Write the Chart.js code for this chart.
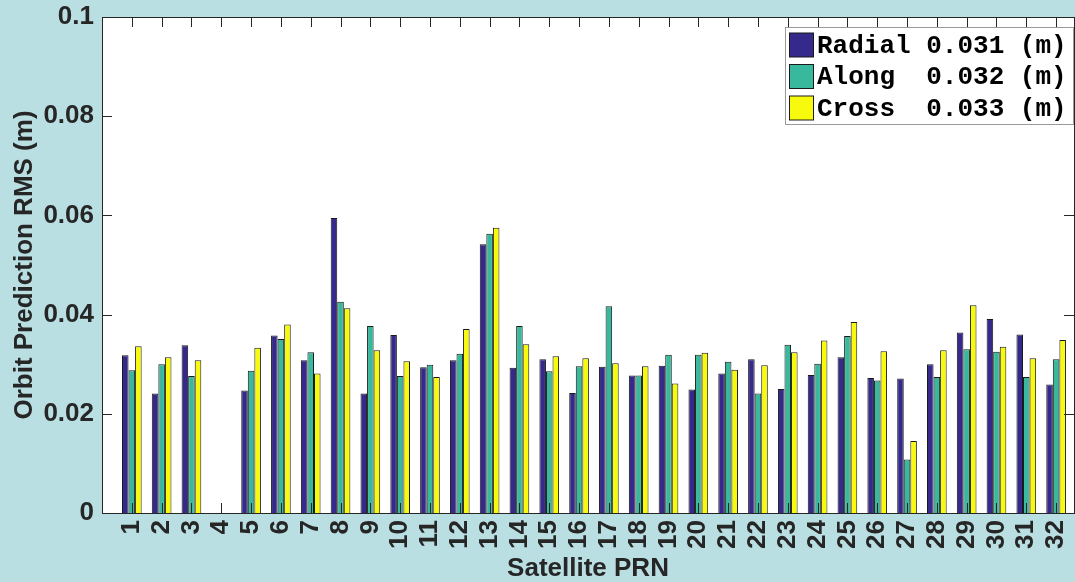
<!DOCTYPE html>
<html>
<head>
<meta charset="utf-8">
<title>Orbit Prediction RMS</title>
<script src="https://cdn.jsdelivr.net/npm/chart.js@4.4.1/dist/chart.umd.min.js"></script>
<style>
  html, body { margin: 0; padding: 0; background: #badfe3; overflow: hidden; }
</style>
</head>
<body>
<canvas id="rms" width="1075" height="582"></canvas>
<script>
(function () {
  'use strict';

  // --- Datos ---
  const prn = [1, 2, 3, 4, 5, 6, 7, 8, 9, 10, 11, 12, 13, 14, 15, 16,
               17, 18, 19, 20, 21, 22, 23, 24, 25, 26, 27, 28, 29, 30, 31, 32];
  const radial = [0.0318, 0.0241, 0.0338, null, 0.0247, 0.0358, 0.0308, 0.0595,
                  0.0241, 0.0359, 0.0294, 0.0308, 0.0542, 0.0293, 0.0310, 0.0242,
                  0.0295, 0.0277, 0.0297, 0.0249, 0.0281, 0.0310, 0.0250, 0.0278,
                  0.0314, 0.0272, 0.0271, 0.0300, 0.0364, 0.0391, 0.0360, 0.0259];
  const along = [0.0288, 0.0300, 0.0276, null, 0.0287, 0.0351, 0.0324, 0.0426,
                 0.0377, 0.0276, 0.0299, 0.0321, 0.0563, 0.0377, 0.0286, 0.0296,
                 0.0417, 0.0277, 0.0319, 0.0319, 0.0305, 0.0241, 0.0339, 0.0301,
                 0.0357, 0.0267, 0.0108, 0.0274, 0.0330, 0.0325, 0.0274, 0.0310];
  const cross = [0.0336, 0.0314, 0.0308, null, 0.0333, 0.0380, 0.0281, 0.0413,
                 0.0328, 0.0306, 0.0274, 0.0371, 0.0575, 0.0340, 0.0316, 0.0312,
                 0.0302, 0.0296, 0.0261, 0.0323, 0.0289, 0.0298, 0.0324, 0.0348,
                 0.0385, 0.0326, 0.0145, 0.0328, 0.0419, 0.0335, 0.0312, 0.0349];
  const seriesNames = ['Radial', 'Along', 'Cross'];
  const seriesMeans = [0.031, 0.032, 0.033];
  const yTickValues = [0, 0.02, 0.04, 0.06, 0.08, 0.1];
  const yTickLabels = ['0', '0.02', '0.04', '0.06', '0.08', '0.1'];

  const colors = ['#35298b', '#38b99d', '#f8fa0e'];
  const axisColor = '#262626';
  const sans = '"Liberation Sans", Arial, sans-serif';
  const mono = '"Liberation Mono", "Courier New", monospace';

  function toPoints(values) {
    return values.map(function (v, i) { return { x: prn[i], y: v }; });
  }

  const datasets = [radial, along, cross].map(function (values, i) {
    return {
      label: seriesNames[i].padEnd(7, ' ') + seriesMeans[i].toFixed(3) + ' (m)',
      data: toPoints(values),
      backgroundColor: colors[i],
      borderColor: '#1a1a1a',
      borderWidth: 1,
      borderSkipped: 'bottom',
      categoryPercentage: 0.66,
      barPercentage: 1.0
    };
  });

  function noPadding(scale) {
    scale.paddingTop = 0;
    scale.paddingBottom = 0;
    scale.paddingLeft = 0;
    scale.paddingRight = 0;
  }

  // --- Fondo, caja de ejes, marcas interiores y leyenda ---
  const matlabFrame = {
    id: 'matlabFrame',
    beforeDraw: function (chart) {
      const ctx = chart.ctx;
      const a = chart.chartArea;
      ctx.save();
      ctx.fillStyle = '#badfe3';
      ctx.fillRect(0, 0, chart.width, chart.height);
      ctx.fillStyle = '#ffffff';
      ctx.fillRect(a.left, a.top, a.right - a.left, a.bottom - a.top);
      ctx.restore();
    },
    afterDatasetsDraw: function (chart) {
      const ctx = chart.ctx;
      const a = chart.chartArea;
      const xs = chart.scales.x;
      const ys = chart.scales.y;
      const tick = 10;
      ctx.save();
      ctx.strokeStyle = axisColor;
      ctx.lineWidth = 1;
      ctx.beginPath();
      prn.forEach(function (v) {
        const px = Math.round(xs.getPixelForValue(v)) + 0.5;
        ctx.moveTo(px, a.bottom);
        ctx.lineTo(px, a.bottom - tick);
        ctx.moveTo(px, a.top);
        ctx.lineTo(px, a.top + tick);
      });
      yTickValues.forEach(function (v) {
        const py = Math.round(ys.getPixelForValue(v)) + 0.5;
        ctx.moveTo(a.left, py);
        ctx.lineTo(a.left + tick, py);
        ctx.moveTo(a.right, py);
        ctx.lineTo(a.right - tick, py);
      });
      ctx.stroke();
      ctx.strokeRect(Math.round(a.left) + 0.5, Math.round(a.top) + 0.5,
        Math.round(a.right - a.left), Math.round(a.bottom - a.top));

      // leyenda
      const lx = 785.5, ly = 27.5, lw = 288, lh = 97;
      ctx.fillStyle = '#ffffff';
      ctx.fillRect(lx, ly, lw, lh);
      ctx.strokeStyle = '#9a9a9a';
      ctx.strokeRect(lx, ly, lw, lh);
      ctx.font = 'bold 26px ' + mono;
      ctx.textBaseline = 'middle';
      ctx.textAlign = 'left';
      chart.data.datasets.forEach(function (ds, i) {
        const cy = 45 + i * 31.5;
        ctx.fillStyle = ds.backgroundColor;
        ctx.fillRect(789.5, cy - 12, 24, 24);
        ctx.strokeStyle = '#1a1a1a';
        ctx.strokeRect(789.5, cy - 12, 24, 24);
        ctx.fillStyle = '#000000';
        ctx.fillText(ds.label, 817, cy + 1);
      });
      ctx.restore();
    }
  };

  new Chart(document.getElementById('rms'), {
    type: 'bar',
    data: { datasets: datasets },
    options: {
      responsive: false,
      animation: false,
      layout: { padding: { top: 17, right: 1, left: 0, bottom: 0 } },
      plugins: {
        legend: { display: false },
        tooltip: { enabled: false }
      },
      scales: {
        x: {
          type: 'linear',
          offset: false,
          min: 0,
          max: 32.6,
          grid: { display: false, drawTicks: false, offset: false },
          border: { display: false },
          afterBuildTicks: function (scale) {
            scale.ticks = prn.map(function (v) { return { value: v }; });
          },
          afterFit: function (scale) { scale.height = 69; noPadding(scale); },
          ticks: {
            autoSkip: false,
            minRotation: 90,
            maxRotation: 90,
            padding: 7,
            color: axisColor,
            font: { family: sans, size: 26, weight: 'bold' },
            callback: function (value) { return String(value); }
          },
          title: {
            display: true,
            text: 'Satellite PRN',
            color: axisColor,
            font: { family: sans, size: 26, weight: 'bold', lineHeight: 1 },
            padding: { top: 0, bottom: 0 }
          }
        },
        y: {
          min: 0,
          max: 0.1,
          grid: { display: false, drawTicks: false },
          border: { display: false },
          afterBuildTicks: function (scale) {
            scale.ticks = yTickValues.map(function (v) { return { value: v }; });
          },
          afterFit: function (scale) { scale.width = 102; noPadding(scale); },
          ticks: {
            padding: 8,
            color: axisColor,
            font: { family: sans, size: 26, weight: 'bold' },
            callback: function (value, index) { return yTickLabels[index]; }
          },
          title: {
            display: true,
            text: 'Orbit Prediction RMS (m)',
            color: axisColor,
            font: { family: sans, size: 26, weight: 'bold', lineHeight: 1 },
            padding: { top: 12, bottom: 0 }
          }
        }
      }
    },
    plugins: [matlabFrame]
  });
})();
</script>
</body>
</html>
